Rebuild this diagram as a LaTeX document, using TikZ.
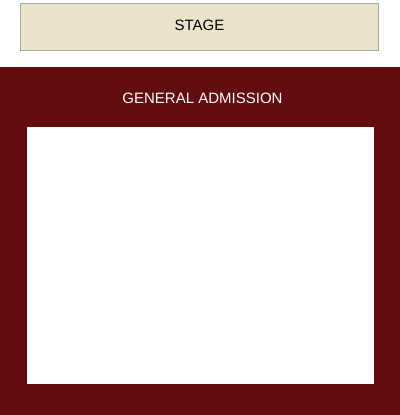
\documentclass[tikz,border=0pt]{standalone}
\usepackage{fontspec}
\setmainfont{Liberation Sans}
\usepackage{xcolor}
\usepackage{tikz}

\definecolor{stagefill}{HTML}{EAE3C9}
\definecolor{stageline}{HTML}{A9A9A2}
\definecolor{gared}{HTML}{620C10}

\begin{document}
\begin{tikzpicture}[x=1bp,y=-1bp,
        stagebox/.style={draw=stageline, line width=1bp, fill=stagefill, inner sep=0pt},
        label/.style={font=\fontsize{15bp}{17bp}\selectfont, inner sep=0pt}]
        \useasboundingbox (0,0) rectangle (400,415);

        \fill[gared] (0,67) rectangle (400,415);
        \fill[white] (27,127) rectangle (374,384);

        \node[stagebox, minimum width=357bp, minimum height=47bp] (stage) at (199.5,26.5) {};
        \node[label] (stagetext) at (199.5,25.5) {STAGE};

        \node[label, text=white] (ga) at (202.5,98) {GENERAL ADMISSION};
    \end{tikzpicture}
\end{document}
